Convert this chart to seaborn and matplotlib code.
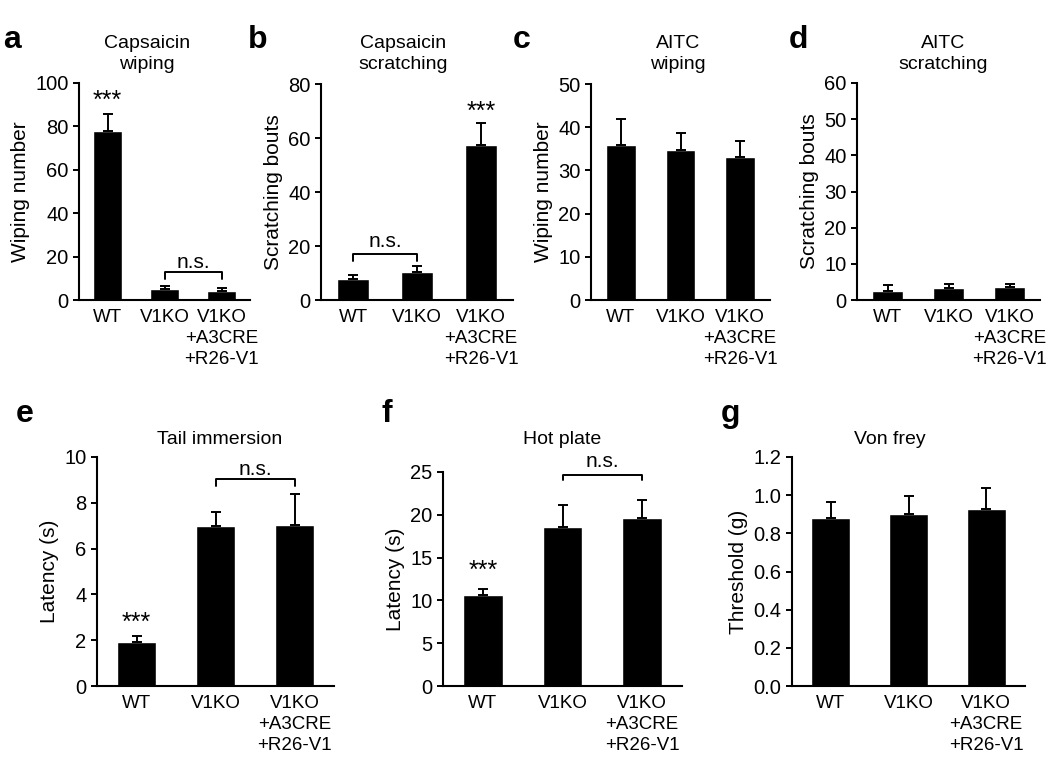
"""
Painéis de comportamento (a-g): barras médias + erro para WT, V1KO e resgate.
"""

import matplotlib
matplotlib.use("Agg")
import matplotlib.pyplot as plt
import numpy as np
import seaborn as sns
from matplotlib.ticker import FormatStrFormatter

GROUPS = ["WT", "V1KO", "V1KO\n+A3CRE\n+R26-V1"]

# valores (média, erro superior)
a_mean = [78.0, 5.1, 4.3]
a_err = [7.7, 1.5, 1.1]
b_mean = [7.8, 10.4, 57.4]
b_err = [1.6, 2.2, 8.0]
c_mean = [35.8, 34.7, 33.1]
c_err = [6.2, 4.0, 3.6]
d_mean = [2.6, 3.3, 3.7]
d_err = [1.6, 1.0, 0.6]
e_mean = [1.9, 7.0, 7.05]
e_err = [0.3, 0.6, 1.35]
f_mean = [10.6, 18.6, 19.6]
f_err = [0.7, 2.6, 2.15]
g_mean = [0.88, 0.90, 0.925]
g_err = [0.085, 0.095, 0.115]

W, H = 1050, 780


def px_box(x0, x1, y0, y1):
    """caixa em pixels (origem em cima) -> coordenadas da figura"""
    return [x0 / W, 1 - y1 / H, (x1 - x0) / W, (y1 - y0) / H]


PANELS = [
    # letra, título, ylabel, médias, erros, ymax, passo, caixa, pos. título, pos. letra
    ("a", "Capsaicin\nwiping", "Wiping number", a_mean, a_err, 100, 20,
     (79, 250, 83, 300), (147, 54), (3, 40)),
    ("b", "Capsaicin\nscratching", "Scratching bouts", b_mean, b_err, 80, 20,
     (321, 513, 84, 300), (403, 54), (248, 40)),
    ("c", "AITC\nwiping", "Wiping number", c_mean, c_err, 50, 10,
     (591, 770, 84, 300), (678, 54), (513, 40)),
    ("d", "AITC\nscratching", "Scratching bouts", d_mean, d_err, 60, 10,
     (857, 1040, 83, 300), (943, 54), (789, 40)),
    ("e", "Tail immersion", "Latency (s)", e_mean, e_err, 10, 2,
     (97, 334, 457, 686), (220, 439), (16, 414)),
    ("f", "Hot plate", "Latency (s)", f_mean, f_err, 25, 5,
     (443, 682, 472, 686), (562, 439), (381, 414)),
    ("g", "Von frey", "Threshold (g)", g_mean, g_err, 1.2, 0.2,
     (792, 1025, 457, 686), (890, 439), (721, 414)),
]

# marcações de significância: (grupo i, grupo j, y da barra, y das pontas, y do texto)
NS = {
    "a": (1, 2, 12.8, 9.7, 17.5),
    "b": (0, 1, 17.0, 14.5, 21.5),
    "e": (1, 2, 9.03, 8.72, 9.45),
    "f": (1, 2, 24.7, 24.05, 26.2),
}
STARS = {"a": (0, 92.0), "b": (2, 69.5), "e": (0, 2.75), "f": (0, 13.4)}

CAT_SIZE = 13.5


def main():
    sns.set_style("ticks")
    plt.rcParams["font.family"] = ["Liberation Sans", "DejaVu Sans"]
    plt.rcParams.update({
        "text.color": "black",
        "axes.labelcolor": "black",
        "axes.edgecolor": "black",
        "xtick.color": "black",
        "ytick.color": "black",
    })

    fig = plt.figure(figsize=(W / 100, H / 100), dpi=100)

    first_lines = [g.split("\n")[0] for g in GROUPS]
    x = np.arange(len(GROUPS))

    for letter, title, ylabel, means, errs, ymax, step, box, tpos, lpos in PANELS:
        ax = fig.add_axes(px_box(*box))
        # x numérico -> um nível categórico por grupo (os dois "V1KO" não se fundem)
        sns.barplot(x=x, y=means, color="black", width=0.5,
                    saturation=1, ax=ax, errorbar=None)
        ax.errorbar(x, means, yerr=[np.zeros(len(errs)), errs], fmt="none",
                    ecolor="black", elinewidth=1.4, capsize=3.3, capthick=1.4)

        ax.set_xlim(-0.5, 2.5)
        ax.set_ylim(0, ymax)
        ax.set_xticks(x)
        ax.set_xticklabels(first_lines)
        ax.set_yticks(np.arange(0, ymax + step / 2, step))
        if letter == "g":
            ax.yaxis.set_major_formatter(FormatStrFormatter("%.1f"))
        ax.set_ylabel(ylabel, fontsize=15, labelpad=4)
        ax.set_xlabel("")
        ax.tick_params(axis="y", labelsize=14.5, length=4, width=1.4, direction="out")
        ax.tick_params(axis="x", labelsize=CAT_SIZE, length=0, pad=6.5)
        sns.despine(ax=ax)
        for s in ("left", "bottom"):
            ax.spines[s].set_linewidth(1.5)

        # linhas extras do rótulo do grupo de resgate, uma por texto
        for k, g in enumerate(GROUPS):
            for n, line in enumerate(g.split("\n")[1:], start=1):
                ax.annotate(line, xy=(k, 0), xycoords=("data", "axes fraction"),
                            xytext=(0, -12.3 - 15.2 * n), textcoords="offset points",
                            ha="center", va="center", fontsize=CAT_SIZE,
                            annotation_clip=False)

        if letter in NS:
            i, j, yb, yt, ytxt = NS[letter]
            ax.plot([i, i, j, j], [yt, yb, yb, yt], color="black", lw=1.4,
                    clip_on=False)
            ax.text((i + j) / 2, ytxt, "n.s.", ha="center", va="center",
                    fontsize=15, clip_on=False)
        if letter in STARS:
            k, ys = STARS[letter]
            ax.text(k, ys, "***", ha="center", va="center", fontsize=18,
                    clip_on=False)

        fig.text(tpos[0] / W, 1 - tpos[1] / H, title, ha="center", va="center",
                 fontsize=14, multialignment="center", linespacing=1.25)
        fig.text(lpos[0] / W, 1 - lpos[1] / H, letter, ha="left", va="center",
                 fontsize=23, fontweight="bold")

    fig.savefig("out.png", dpi=100)
    plt.close(fig)


if __name__ == "__main__":
    main()
